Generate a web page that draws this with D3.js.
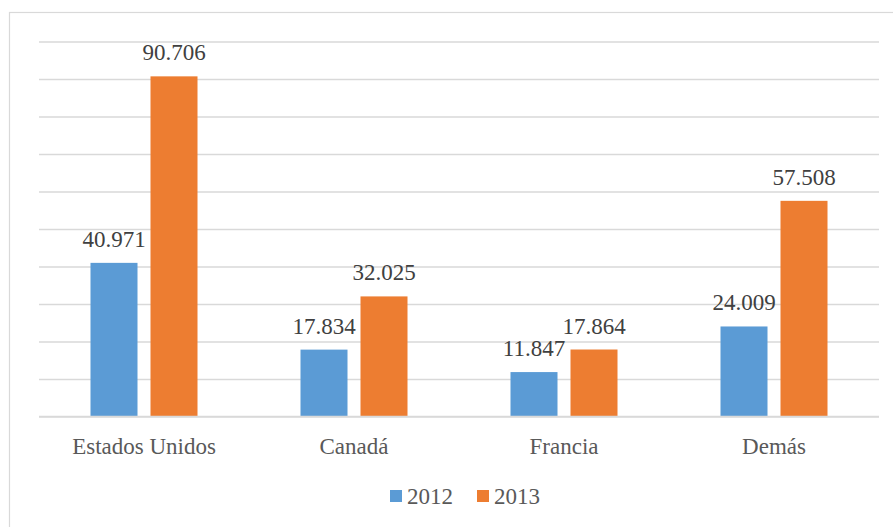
<!DOCTYPE html>
<html>
<head>
<meta charset="utf-8">
<script src="https://cdn.jsdelivr.net/npm/d3@7"></script>
</head>
<body style="margin:0">
<div class="chart-container"></div>
<script>
var width = 893;
var height = 527;
var categories = ["Estados Unidos", "Canadá", "Francia", "Demás"];
var years = ["2012", "2013"];
var values2012 = [40971, 17834, 11847, 24009];
var values2013 = [90706, 32025, 17864, 57508];
var yTicks = [0, 10000, 20000, 30000, 40000, 50000, 60000, 70000, 80000, 90000, 100000];
var colors = ["#5B9BD5", "#ED7D31"];

var plot = { left: 39, right: 879, top: 41.5, bottom: 416.5 };
var fontFamily = "Liberation Serif";

var fmt = d3.formatLocale({ decimal: ",", thousands: ".", grouping: [3], currency: ["", ""] }).format(",d");

var svg = d3
  .select(".chart-container")
  .append("svg")
  .attr("width", width)
  .attr("height", height)
  .attr("font-family", fontFamily)
  .attr("font-size", 23);

// chart area border, it runs off the right and bottom of the frame
svg.append("rect")
  .attr("x", 9.5)
  .attr("y", 12.5)
  .attr("width", width + 20)
  .attr("height", height + 20)
  .style("fill", "none")
  .style("stroke", "#D9D9D9")
  .style("stroke-width", 1.2);

var x = d3.scaleBand()
  .domain(categories)
  .range([plot.left, plot.right]);

var x1 = d3.scaleBand()
  .domain(years)
  .range([0, 107])
  .paddingInner(13 / 60);

var y = d3.scaleLinear()
  .domain([0, 100000])
  .range([plot.bottom, plot.top]);

// gridlines
var yAxis = d3.axisLeft(y)
  .tickValues(yTicks)
  .tickSize(-(plot.right - plot.left))
  .tickFormat("");

var gy = svg.append("g")
  .attr("transform", "translate(" + plot.left + ",0)")
  .call(yAxis);
gy.select(".domain").remove();
gy.selectAll(".tick line")
  .style("stroke", "#D9D9D9")
  .style("stroke-width", 1.3);

var series = years.map(function (yr, i) {
  return { year: yr, values: i == 0 ? values2012 : values2013, color: colors[i] };
});

// bar left edge for a category / year, no group transforms so text keeps its font
var barX = function (cat, yr) {
  return x(cat) + x.bandwidth() / 2 - 53.5 + x1(yr);
};

var bars = [];
categories.forEach(function (cat, ci) {
  series.forEach(function (s) {
    bars.push({ cat: cat, year: s.year, value: s.values[ci], color: s.color });
  });
});

svg.selectAll("rect.bar")
  .data(bars)
  .enter()
  .append("rect")
  .attr("class", "bar")
  .attr("x", function (d) { return barX(d.cat, d.year); })
  .attr("y", function (d) { return y(d.value); })
  .attr("width", x1.bandwidth())
  .attr("height", function (d) { return y(0) - y(d.value); })
  .style("fill", function (d) { return d.color; });

svg.selectAll("text.value")
  .data(bars)
  .enter()
  .append("text")
  .attr("class", "value")
  .attr("x", function (d) { return barX(d.cat, d.year) + x1.bandwidth() / 2; })
  .attr("y", function (d) { return y(d.value) - 16; })
  .attr("text-anchor", "middle")
  .attr("fill", "#404040")
  .text(function (d) { return fmt(d.value); });

// baseline
svg.append("line")
  .attr("x1", plot.left)
  .attr("x2", plot.right)
  .attr("y1", y(0))
  .attr("y2", y(0))
  .style("stroke", "#D9D9D9")
  .style("stroke-width", 1.5);

// category labels
svg.selectAll("text.cat")
  .data(categories)
  .enter()
  .append("text")
  .attr("class", "cat")
  .attr("x", function (d) { return x(d) + x.bandwidth() / 2; })
  .attr("y", plot.bottom + 37)
  .attr("text-anchor", "middle")
  .attr("fill", "#595959")
  .text(function (d) { return d; });

// legend
var legendX = function (i) { return 390 + i * 87; };
svg.selectAll("rect.key")
  .data(series)
  .enter()
  .append("rect")
  .attr("class", "key")
  .attr("x", function (d, i) { return legendX(i); })
  .attr("y", 490)
  .attr("width", 12)
  .attr("height", 12)
  .attr("fill", function (d) { return d.color; });
svg.selectAll("text.key")
  .data(series)
  .enter()
  .append("text")
  .attr("class", "key")
  .attr("x", function (d, i) { return legendX(i) + 17; })
  .attr("y", 504)
  .attr("fill", "#595959")
  .text(function (d) { return d.year; });
</script>
</body>
</html>
